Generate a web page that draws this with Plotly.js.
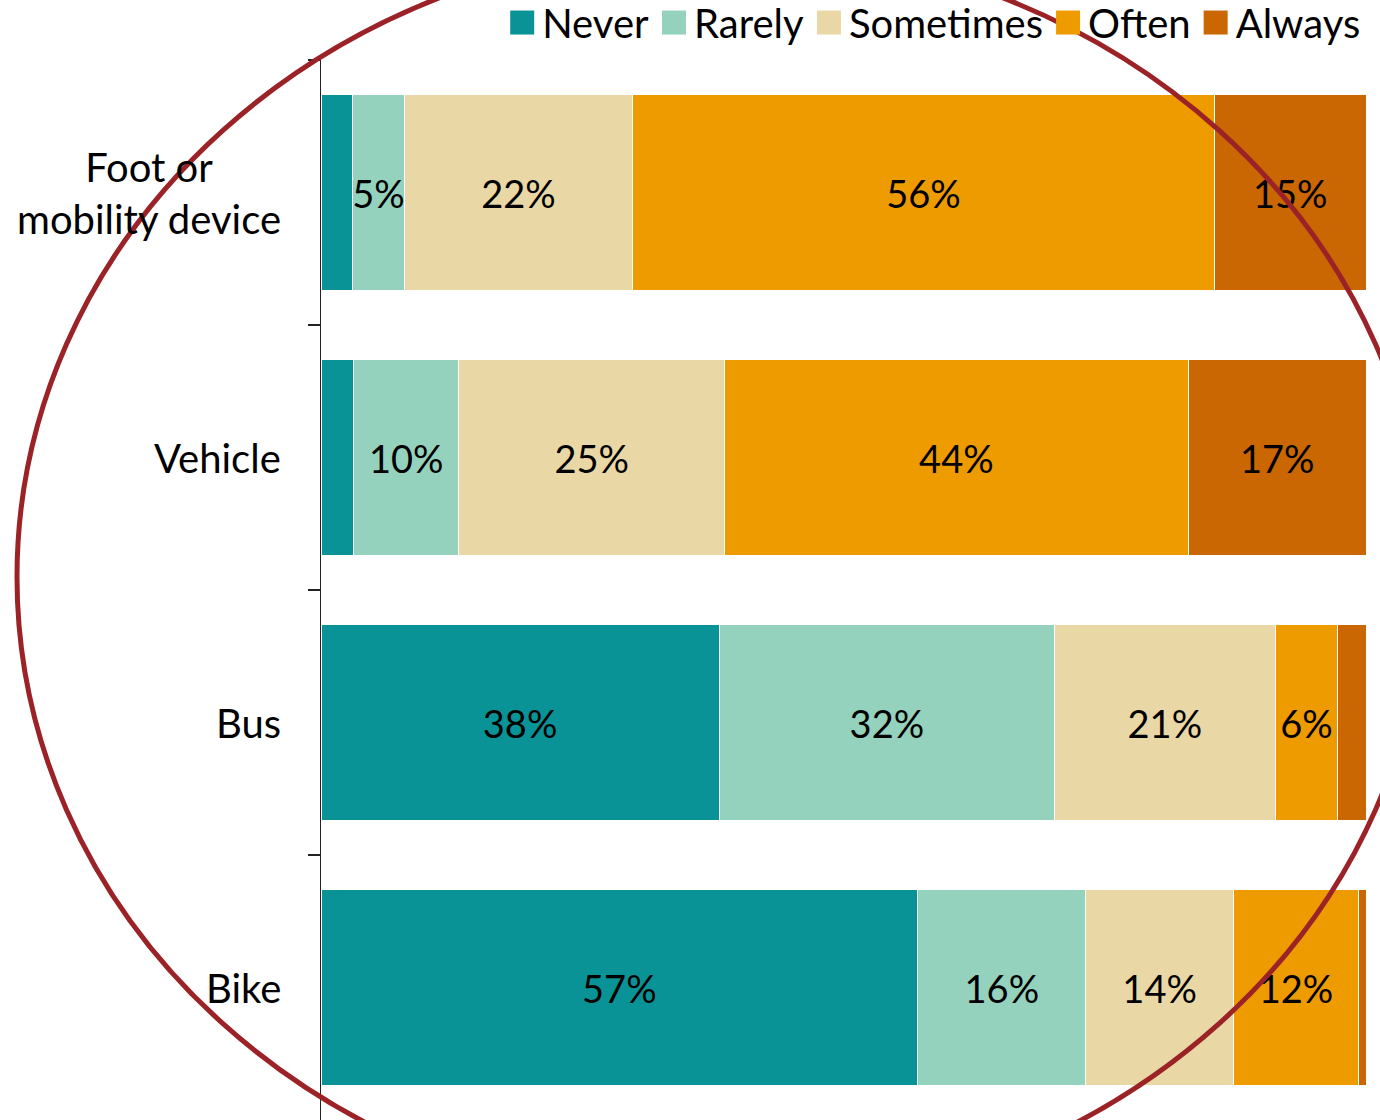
<!DOCTYPE html>
<html>
<head>
<meta charset="utf-8">
<script src="https://cdn.plot.ly/plotly-3.0.1.min.js"></script>
<style>
  html, body { margin: 0; padding: 0; background: #fff; }
  #chart { width: 1380px; height: 1120px; }
</style>
</head>
<body>
<div id="chart"></div>
<script>
const modes = ['Foot or<br>mobility device', 'Vehicle', 'Bus', 'Bike'];
const responses = ['Never', 'Rarely', 'Sometimes', 'Often', 'Always'];

// share of respondents (%), one array per response, in the order of modes
const never     = [3.0, 3.1, 38.1, 57.1];
const rarely    = [5.0, 10.1, 32.1, 16.1];
const sometimes = [21.8, 25.4, 21.1, 14.1];
const often     = [55.7, 44.4, 6.0, 12.0];
const always    = [14.5, 17.0, 2.8, 0.7];

const series = [never, rarely, sometimes, often, always];
const colors = ['#0a9396', '#94d2bd', '#e9d8a6', '#ee9b00', '#ca6702'];

const font = 'Lato, "Open Sans", sans-serif';

const traces = series.map((vals, i) => ({
  type: 'bar',
  orientation: 'h',
  name: responses[i],
  y: modes,
  x: vals,
  text: vals.map(v => v >= 4 ? Math.round(v) + '%' : ''),
  textposition: 'inside',
  insidetextanchor: 'middle',
  textangle: 0,
  constraintext: 'none',
  textfont: { family: font, size: 38, color: '#000' },
  marker: { color: colors[i], line: { color: '#fff', width: 1 } },
  hoverinfo: 'skip'
}));

// category labels as centred annotations (multi-line label is centred)
const labels = modes.map(m => ({
  xref: 'paper', x: 0, xanchor: 'right', xshift: -38,
  yref: 'y', y: m, yanchor: 'middle',
  text: m, align: 'center', showarrow: false,
  font: { family: font, size: 40, color: '#000' }
}));

const layout = {
  width: 1380,
  height: 1120,
  margin: { l: 321, r: 14, t: 60, b: 0, autoexpand: false },
  paper_bgcolor: '#fff',
  plot_bgcolor: '#fff',
  barmode: 'stack',
  bargap: 0.264,
  font: { family: font, size: 40, color: '#000' },
  showlegend: true,
  legend: {
    orientation: 'h',
    xref: 'container', x: 0.99, xanchor: 'right',
    yref: 'paper', y: 1.066, yanchor: 'top',
    traceorder: 'normal',
    font: { family: font, size: 40, color: '#000' },
    itemwidth: 30,
    bgcolor: 'rgba(0,0,0,0)'
  },
  xaxis: {
    visible: false,
    range: [0, 100],
    fixedrange: true
  },
  yaxis: {
    autorange: 'reversed',
    showticklabels: false,
    ticks: 'outside',
    tickson: 'boundaries',
    ticklen: 12,
    tickwidth: 1.2,
    tickcolor: '#222',
    showline: true,
    linecolor: '#222',
    linewidth: 1.5,
    showgrid: false,
    zeroline: false,
    fixedrange: true
  },
  annotations: labels,
  shapes: [{
    type: 'circle',
    layer: 'above',
    xref: 'paper', xsizemode: 'pixel', xanchor: 0,
    yref: 'paper', ysizemode: 'pixel', yanchor: 1,
    x0: -304, x1: 1104,
    y0: -1149, y1: 115,
    line: { color: '#9b2226', width: 5 },
    fillcolor: 'rgba(0,0,0,0)'
  }]
};

Plotly.newPlot('chart', traces, layout, { staticPlot: true, displayModeBar: false }).then(gd => {
  // the reference uses larger legend swatches than plotly's default 12px
  gd.querySelectorAll('.legend .legendpoints path').forEach(p => {
    p.setAttribute('d', 'M12,12H-12V-12H12Z');
    p.style.strokeWidth = '0px';
  });
});
</script>
</body>
</html>
